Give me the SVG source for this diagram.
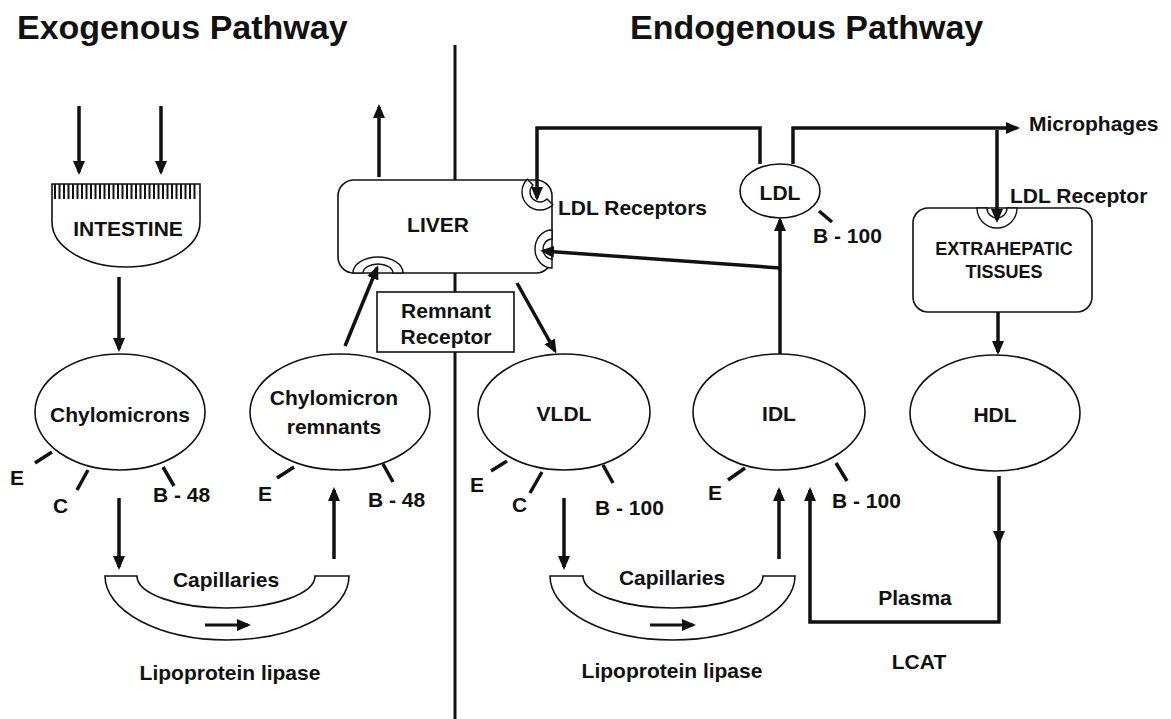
<svg xmlns="http://www.w3.org/2000/svg" width="1171" height="719" viewBox="0 0 1171 719">
<defs>
<style>
.t{font-family:"Liberation Sans",Arial,sans-serif;font-weight:bold;font-size:21px;fill:#111}
.title{font-size:34px}
.sm{font-size:18px}
.c{text-anchor:middle}
.shape{fill:#fff;stroke:#111;stroke-width:1.6}
.rec{fill:#fff;stroke:#111;stroke-width:1.4}
.tick{stroke:#111;stroke-width:3.5;fill:none}
.ar{stroke:#111;stroke-width:3.5;fill:none;marker-end:url(#ah)}
</style>
<marker id="ah" markerUnits="userSpaceOnUse" markerWidth="14" markerHeight="12" viewBox="0 0 14 12" refX="11" refY="6" orient="auto">
<path d="M0,0 L14,6 L0,12 z" fill="#111"/>
</marker>
</defs>
<rect width="1171" height="719" fill="#fff"/>

<text class="t title" x="17" y="39">Exogenous Pathway</text>
<text class="t title" x="630" y="39">Endogenous Pathway</text>

<line id="divider" x1="455" y1="45" x2="455" y2="719" stroke="#111" stroke-width="3"/>

<g id="intestine">
<path class="shape" d="M52,184 H200 V222 A74,45 0 0 1 52,222 Z"/>
<path stroke="#111" stroke-width="2" d="M55,184V199M59.5,184V199M64,184V199M68.5,184V199M73,184V199M77.5,184V199M82,184V199M86.5,184V199M91,184V199M95.5,184V199M100,184V199M104.5,184V199M109,184V199M113.5,184V199M118,184V199M122.5,184V199M127,184V199M131.5,184V199M136,184V199M140.5,184V199M145,184V199M149.5,184V199M154,184V199M158.5,184V199M163,184V199M167.5,184V199M172,184V199M176.5,184V199M181,184V199M185.5,184V199M190,184V199M194.5,184V199"/>
<text class="t c" x="128" y="236">INTESTINE</text>
</g>

<g id="chylomicrons">
<ellipse class="shape" cx="120" cy="412" rx="85" ry="58"/>
<text class="t c" x="120" y="422">Chylomicrons</text>
<path class="tick" d="M35,463 L52,452 M77,490 L88,470 M163,467 L174,486"/>
<text class="t" x="10" y="485">E</text>
<text class="t" x="53" y="513">C</text>
<text class="t" x="153" y="502">B - 48</text>
</g>

<g id="remnants">
<ellipse class="shape" cx="340" cy="412" rx="90" ry="58"/>
<text class="t c" x="334" y="405">Chylomicron</text>
<text class="t c" x="334" y="434">remnants</text>
<path class="tick" d="M277,478 L294,467 M383,464 L393,482"/>
<text class="t" x="258" y="501">E</text>
<text class="t" x="368" y="507">B - 48</text>
</g>

<g id="liver">
<rect class="shape" x="338" y="180" width="214" height="93" rx="16"/>
<text class="t c" x="438" y="232">LIVER</text>
<path class="rec" transform="translate(378,273) rotate(90)" d="M0,-25 A16,25 0 0 0 0,25 L0,15 A9,15 0 0 1 0,-15 Z"/>
<path class="rec" transform="translate(540,192) rotate(-45)" d="M0,-18 A18,18 0 0 0 0,18 L0,10 A10,10 0 0 1 0,-10 Z"/>
<path class="rec" transform="translate(552,249)" d="M0,-19 A17,19 0 0 0 0,19 L0,10 A9,10 0 0 1 0,-10 Z"/>
<text class="t" x="558" y="215">LDL Receptors</text>
</g>

<g id="remnant-receptor">
<rect x="377" y="292" width="137" height="60" fill="#fff" stroke="#111" stroke-width="1.6"/>
<text class="t c" x="446" y="318">Remnant</text>
<text class="t c" x="446" y="344">Receptor</text>
</g>

<g id="ldl">
<ellipse class="shape" cx="780" cy="191" rx="40" ry="27"/>
<text class="t c" x="780" y="200">LDL</text>
<path class="tick" d="M819,211 L832,222"/>
<text class="t" x="813" y="243">B - 100</text>
</g>

<g id="extrahepatic">
<rect class="shape" x="913" y="208" width="179" height="104" rx="15"/>
<path class="rec" transform="translate(997,208) rotate(-90)" d="M0,-20 A20,20 0 0 0 0,20 L0,10 A10,10 0 0 1 0,-10 Z"/>
<text class="t sm c" x="1004" y="255">EXTRAHEPATIC</text>
<text class="t sm c" x="1004" y="278">TISSUES</text>
<text class="t" x="1010" y="203">LDL Receptor</text>
</g>

<text class="t" x="1029" y="131">Microphages</text>

<g id="vldl">
<ellipse class="shape" cx="564" cy="412" rx="86" ry="58"/>
<text class="t c" x="564" y="421">VLDL</text>
<path class="tick" d="M491,471 L507,461 M530,493 L542,472 M603,465 L613,483"/>
<text class="t" x="470" y="492">E</text>
<text class="t" x="512" y="512">C</text>
<text class="t" x="595" y="515">B - 100</text>
</g>

<g id="idl">
<ellipse class="shape" cx="779" cy="412" rx="86" ry="58"/>
<text class="t c" x="779" y="421">IDL</text>
<path class="tick" d="M728,480 L745,468 M836,463 L847,481"/>
<text class="t" x="708" y="500">E</text>
<text class="t" x="832" y="508">B - 100</text>
</g>

<g id="hdl">
<ellipse class="shape" cx="995" cy="413" rx="85" ry="58"/>
<text class="t c" x="995" y="422">HDL</text>
</g>

<g id="capillaries-exo">
<path class="shape" d="M105,576 H137 A89,32 0 0 0 315,576 H349 A122,64 0 0 1 105,576 Z"/>
<text class="t c" x="226" y="587">Capillaries</text>
<text class="t c" x="230" y="680">Lipoprotein lipase</text>
</g>

<g id="capillaries-endo">
<path class="shape" d="M550,576 H583 A90,32 0 0 0 763,576 H795 A122.5,64 0 0 1 550,576 Z"/>
<text class="t c" x="672" y="585">Capillaries</text>
<text class="t c" x="672" y="678">Lipoprotein lipase</text>
</g>

<g id="plasma-labels">
<text class="t c" x="915" y="605">Plasma</text>
<text class="t c" x="919" y="669">LCAT</text>
</g>

<g id="connectors">
<path class="ar" d="M79,106 V172"/>
<path class="ar" d="M161,106 V172"/>
<path class="ar" d="M119,277 V349"/>
<path class="ar" d="M119,498 V567"/>
<path class="ar" d="M334,559 V490"/>
<path class="ar" style="stroke-width:3" d="M205,625 H248"/>
<path class="ar" d="M345,346 L377,268"/>
<path class="ar" d="M379,177 V107"/>
<path class="ar" d="M517,283 L555,351"/>
<path class="ar" d="M760,164 V128 H537 V198"/>
<path class="ar" d="M793,164 V128 H1017"/>
<path class="ar" d="M997,130 V220"/>
<path class="ar" d="M780,354 V220"/>
<path class="ar" d="M780,268 L543,251"/>
<path class="ar" d="M998,312 V352"/>
<path class="ar" d="M564,498 V567"/>
<path class="ar" d="M779,559 V490"/>
<path class="ar" style="stroke-width:3" d="M650,625 H693"/>
<path class="ar" d="M999,476 V542"/>
<path class="ar" d="M999,540 V622 H810 V490"/>
</g>
</svg>
